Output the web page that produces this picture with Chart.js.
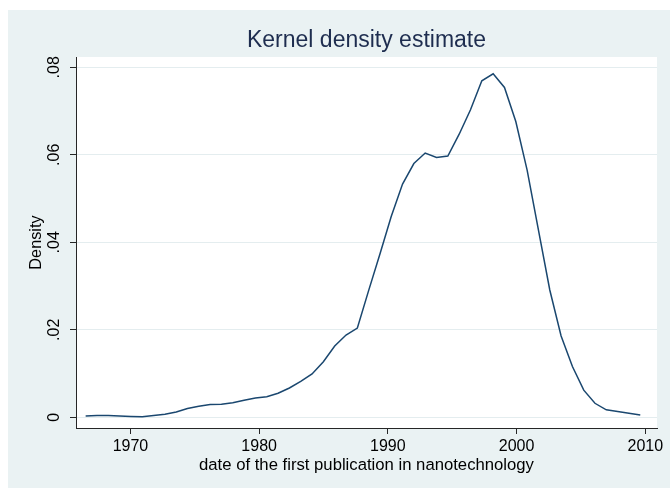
<!DOCTYPE html>
<html>
<head>
<meta charset="utf-8">
<script src="https://cdn.jsdelivr.net/npm/chart.js@4.4.1/dist/chart.umd.min.js"></script>
<style>
  html, body { margin: 0; padding: 0; background: #ffffff; }
  #wrap { width: 670px; height: 490px; }
</style>
</head>
<body>
<div id="wrap"><canvas id="c" width="670" height="490"></canvas></div>
<script>
// ---- data ----
const years = [
  1966.52, 1967.40, 1968.28, 1969.16, 1970.04, 1970.92, 1971.80, 1972.68, 1973.56, 1974.43,
  1975.31, 1976.19, 1977.07, 1977.95, 1978.83, 1979.71, 1980.59, 1981.47, 1982.35, 1983.23,
  1984.11, 1984.99, 1985.87, 1986.75, 1987.63, 1988.51, 1989.39, 1990.26, 1991.14, 1992.02,
  1992.90, 1993.78, 1994.66, 1995.54, 1996.42, 1997.30, 1998.18, 1999.06, 1999.94, 2000.82,
  2001.70, 2002.58, 2003.46, 2004.34, 2005.22, 2006.09, 2006.97, 2007.85, 2008.73, 2009.61
];
const density = [
  0.0003, 0.0004, 0.0004, 0.0003, 0.0002, 0.0001, 0.0004, 0.0007, 0.0012, 0.0020,
  0.0025, 0.0029, 0.0030, 0.0033, 0.0039, 0.0044, 0.0047, 0.0055, 0.0067, 0.0082,
  0.0099, 0.0127, 0.0163, 0.0188, 0.0204, 0.0290, 0.0374, 0.0459, 0.0533, 0.0580,
  0.0604, 0.0594, 0.0597, 0.0647, 0.0703, 0.0769, 0.0785, 0.0754, 0.0676, 0.0565,
  0.0428, 0.0291, 0.0186, 0.0116, 0.0062, 0.0032, 0.0017, 0.0013, 0.0009, 0.0005
];
const xTicks = [1970, 1980, 1990, 2000, 2010];
const yTicks = [0, 0.02, 0.04, 0.06, 0.08];
const yTickLabels = ['0', '.02', '.04', '.06', '.08'];
const chartTitle = 'Kernel density estimate';
const xTitle = 'date of the first publication in nanotechnology';
const yTitle = 'Density';

const FONT = "'Liberation Sans', Arial, Helvetica, sans-serif";
const BG = '#eaf2f3';
const AXIS = '#262626';

const framePlugin = {
  id: 'frame',
  beforeDraw(chart) {
    const ctx = chart.ctx, a = chart.chartArea;
    ctx.save();
    ctx.fillStyle = '#ffffff';
    ctx.fillRect(0, 0, chart.width, chart.height);
    ctx.fillStyle = BG;
    ctx.fillRect(8, 10, chart.width - 8, 478);
    ctx.fillStyle = '#ffffff';
    ctx.fillRect(a.left, a.top, a.right - a.left, a.bottom - a.top);
    ctx.restore();
  },
  afterDraw(chart) {
    const ctx = chart.ctx, ys = chart.scales.y;
    ctx.save();
    ctx.fillStyle = '#000000';
    ctx.font = '16px ' + FONT;
    ctx.textAlign = 'center';
    ctx.textBaseline = 'middle';
    yTicks.forEach((v, i) => {
      const py = ys.getPixelForValue(v);
      ctx.save();
      ctx.translate(55, py);
      ctx.rotate(-Math.PI / 2);
      ctx.fillText(yTickLabels[i], 0, 0);
      ctx.restore();
    });
    ctx.restore();
  }
};

new Chart(document.getElementById('c'), {
  type: 'line',
  data: {
    datasets: [{
      data: years.map((x, i) => ({ x: x, y: density[i] })),
      borderColor: '#1a476f',
      borderWidth: 1.5,
      pointRadius: 0,
      tension: 0,
      fill: false
    }]
  },
  options: {
    responsive: false,
    animation: false,
    devicePixelRatio: 1,
    layout: { padding: { left: 0, right: 13, top: 0, bottom: 0 } },
    plugins: {
      legend: { display: false },
      tooltip: { enabled: false },
      title: {
        display: true,
        text: chartTitle,
        fullSize: false,
        color: '#1e2d4f',
        font: { family: FONT, size: 23, weight: 'normal' },
        padding: { top: 27, bottom: 2.4 }
      }
    },
    scales: {
      x: {
        type: 'linear',
        min: 1965.77,
        max: 2010.91,
        afterBuildTicks: (s) => { s.ticks = xTicks.map(v => ({ value: v })); },
        afterFit: (s) => { s.height = 62; },
        ticks: {
          color: '#000000',
          font: { family: FONT, size: 16 },
          padding: 3,
          maxRotation: 0,
          minRotation: 0,
          autoSkip: false,
          callback: (v) => String(v)
        },
        grid: { drawOnChartArea: false, drawTicks: true, tickLength: 6, tickColor: AXIS, color: AXIS },
        border: { display: true, color: AXIS, width: 1 },
        title: {
          display: true,
          text: xTitle,
          color: '#000000',
          font: { family: FONT, size: 16.7 },
          padding: { top: 0, bottom: 15 }
        }
      },
      y: {
        type: 'linear',
        min: -0.00245,
        max: 0.08235,
        afterBuildTicks: (s) => { s.ticks = yTicks.map(v => ({ value: v })); },
        afterFit: (s) => { s.width = 76; },
        ticks: { display: false },
        grid: { drawOnChartArea: true, drawTicks: true, tickLength: 6, tickColor: AXIS, color: '#e4edef', lineWidth: 1 },
        border: { display: true, color: AXIS, width: 1 },
        title: {
          display: true,
          text: yTitle,
          color: '#000000',
          font: { family: FONT, size: 16.3 },
          padding: { top: 27, bottom: 0 }
        }
      }
    }
  },
  plugins: [framePlugin]
});
</script>
</body>
</html>
